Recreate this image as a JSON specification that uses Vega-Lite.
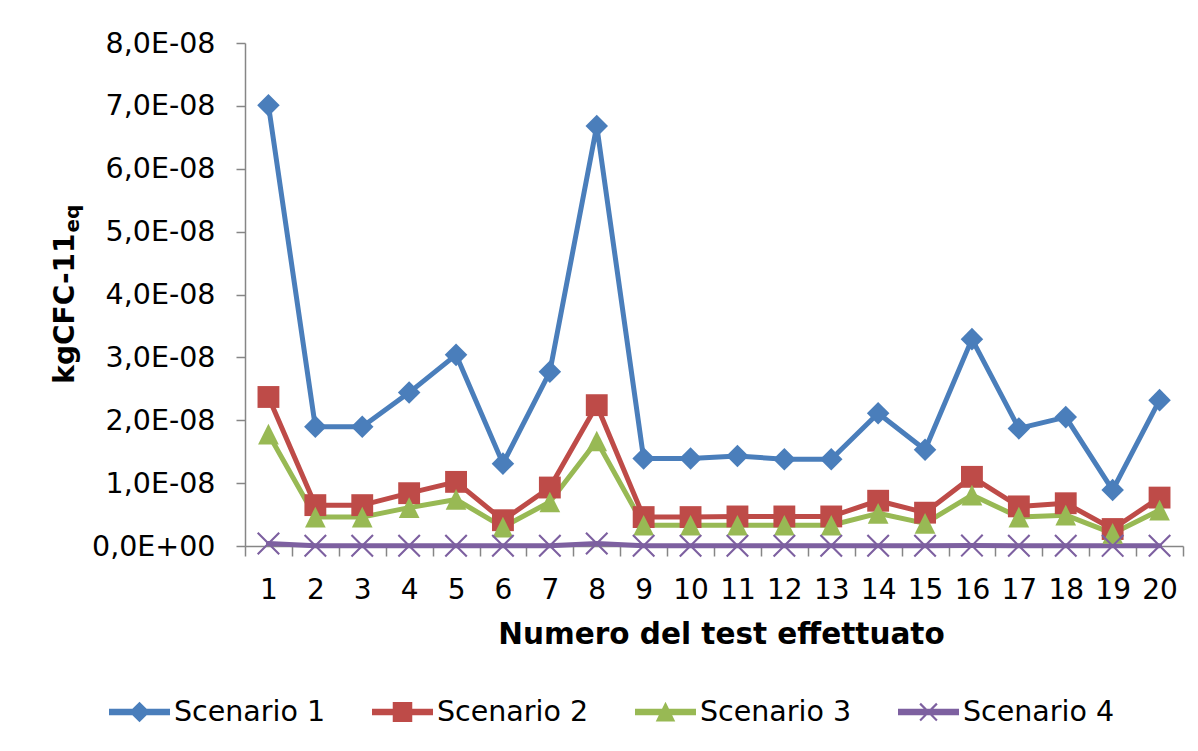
{
  "$schema": "https://vega.github.io/schema/vega-lite/v6.json",
  "width": 938,
  "height": 503,
  "autosize": "none",
  "padding": {"left": 245, "top": 43, "right": 15, "bottom": 205},
  "background": "white",
  "config": {"view": {"stroke": null}, "font": "DejaVu Sans"},
  "data": {"values": [
    {"test": 1, "scenario": "Scenario 1", "value": 7.01e-8},
    {"test": 2, "scenario": "Scenario 1", "value": 1.895e-8},
    {"test": 3, "scenario": "Scenario 1", "value": 1.895e-8},
    {"test": 4, "scenario": "Scenario 1", "value": 2.44e-8},
    {"test": 5, "scenario": "Scenario 1", "value": 3.04e-8},
    {"test": 6, "scenario": "Scenario 1", "value": 1.31e-8},
    {"test": 7, "scenario": "Scenario 1", "value": 2.77e-8},
    {"test": 8, "scenario": "Scenario 1", "value": 6.68e-8},
    {"test": 9, "scenario": "Scenario 1", "value": 1.39e-8},
    {"test": 10, "scenario": "Scenario 1", "value": 1.39e-8},
    {"test": 11, "scenario": "Scenario 1", "value": 1.43e-8},
    {"test": 12, "scenario": "Scenario 1", "value": 1.38e-8},
    {"test": 13, "scenario": "Scenario 1", "value": 1.38e-8},
    {"test": 14, "scenario": "Scenario 1", "value": 2.11e-8},
    {"test": 15, "scenario": "Scenario 1", "value": 1.53e-8},
    {"test": 16, "scenario": "Scenario 1", "value": 3.29e-8},
    {"test": 17, "scenario": "Scenario 1", "value": 1.87e-8},
    {"test": 18, "scenario": "Scenario 1", "value": 2.05e-8},
    {"test": 19, "scenario": "Scenario 1", "value": 0.89e-8},
    {"test": 20, "scenario": "Scenario 1", "value": 2.32e-8},
    {"test": 1, "scenario": "Scenario 2", "value": 2.37e-8},
    {"test": 2, "scenario": "Scenario 2", "value": 0.65e-8},
    {"test": 3, "scenario": "Scenario 2", "value": 0.65e-8},
    {"test": 4, "scenario": "Scenario 2", "value": 0.84e-8},
    {"test": 5, "scenario": "Scenario 2", "value": 1.02e-8},
    {"test": 6, "scenario": "Scenario 2", "value": 0.41e-8},
    {"test": 7, "scenario": "Scenario 2", "value": 0.93e-8},
    {"test": 8, "scenario": "Scenario 2", "value": 2.24e-8},
    {"test": 9, "scenario": "Scenario 2", "value": 0.46e-8},
    {"test": 10, "scenario": "Scenario 2", "value": 0.46e-8},
    {"test": 11, "scenario": "Scenario 2", "value": 0.47e-8},
    {"test": 12, "scenario": "Scenario 2", "value": 0.47e-8},
    {"test": 13, "scenario": "Scenario 2", "value": 0.47e-8},
    {"test": 14, "scenario": "Scenario 2", "value": 0.72e-8},
    {"test": 15, "scenario": "Scenario 2", "value": 0.53e-8},
    {"test": 16, "scenario": "Scenario 2", "value": 1.10e-8},
    {"test": 17, "scenario": "Scenario 2", "value": 0.63e-8},
    {"test": 18, "scenario": "Scenario 2", "value": 0.68e-8},
    {"test": 19, "scenario": "Scenario 2", "value": 0.27e-8},
    {"test": 20, "scenario": "Scenario 2", "value": 0.77e-8},
    {"test": 1, "scenario": "Scenario 3", "value": 1.78e-8},
    {"test": 2, "scenario": "Scenario 3", "value": 0.46e-8},
    {"test": 3, "scenario": "Scenario 3", "value": 0.46e-8},
    {"test": 4, "scenario": "Scenario 3", "value": 0.61e-8},
    {"test": 5, "scenario": "Scenario 3", "value": 0.74e-8},
    {"test": 6, "scenario": "Scenario 3", "value": 0.30e-8},
    {"test": 7, "scenario": "Scenario 3", "value": 0.70e-8},
    {"test": 8, "scenario": "Scenario 3", "value": 1.67e-8},
    {"test": 9, "scenario": "Scenario 3", "value": 0.33e-8},
    {"test": 10, "scenario": "Scenario 3", "value": 0.33e-8},
    {"test": 11, "scenario": "Scenario 3", "value": 0.33e-8},
    {"test": 12, "scenario": "Scenario 3", "value": 0.33e-8},
    {"test": 13, "scenario": "Scenario 3", "value": 0.33e-8},
    {"test": 14, "scenario": "Scenario 3", "value": 0.52e-8},
    {"test": 15, "scenario": "Scenario 3", "value": 0.36e-8},
    {"test": 16, "scenario": "Scenario 3", "value": 0.81e-8},
    {"test": 17, "scenario": "Scenario 3", "value": 0.46e-8},
    {"test": 18, "scenario": "Scenario 3", "value": 0.49e-8},
    {"test": 19, "scenario": "Scenario 3", "value": 0.20e-8},
    {"test": 20, "scenario": "Scenario 3", "value": 0.57e-8},
    {"test": 1, "scenario": "Scenario 4", "value": 0.04e-8},
    {"test": 2, "scenario": "Scenario 4", "value": 0.005e-8},
    {"test": 3, "scenario": "Scenario 4", "value": 0.005e-8},
    {"test": 4, "scenario": "Scenario 4", "value": 0.005e-8},
    {"test": 5, "scenario": "Scenario 4", "value": 0.005e-8},
    {"test": 6, "scenario": "Scenario 4", "value": 0.003e-8},
    {"test": 7, "scenario": "Scenario 4", "value": 0.005e-8},
    {"test": 8, "scenario": "Scenario 4", "value": 0.04e-8},
    {"test": 9, "scenario": "Scenario 4", "value": 0.003e-8},
    {"test": 10, "scenario": "Scenario 4", "value": 0.003e-8},
    {"test": 11, "scenario": "Scenario 4", "value": 0.003e-8},
    {"test": 12, "scenario": "Scenario 4", "value": 0.003e-8},
    {"test": 13, "scenario": "Scenario 4", "value": 0.003e-8},
    {"test": 14, "scenario": "Scenario 4", "value": 0.004e-8},
    {"test": 15, "scenario": "Scenario 4", "value": 0.003e-8},
    {"test": 16, "scenario": "Scenario 4", "value": 0.006e-8},
    {"test": 17, "scenario": "Scenario 4", "value": 0.004e-8},
    {"test": 18, "scenario": "Scenario 4", "value": 0.004e-8},
    {"test": 19, "scenario": "Scenario 4", "value": 0.002e-8},
    {"test": 20, "scenario": "Scenario 4", "value": 0.004e-8}
  ]},
  "encoding": {
    "x": {
      "field": "test",
      "type": "ordinal",
      "bandPosition": 0.5,
      "scale": {"type": "band", "paddingInner": 0, "paddingOuter": 0},
      "axis": {
        "title": "Numero del test effettuato",
        "titleFont": "DejaVu Sans",
        "titleFontSize": 29.5,
        "titleFontWeight": "bold",
        "titleColor": "black",
        "titleX": 476,
        "titleY": 97,
        "titleAlign": "center",
        "titleBaseline": "alphabetic",
        "labelAngle": 0,
        "labelFont": "DejaVu Sans",
        "labelFontSize": 28,
        "labelColor": "black",
        "labelBaseline": "alphabetic",
        "labelPadding": 42,
        "tickBand": "extent",
        "tickSize": 10,
        "tickColor": "#868686",
        "tickWidth": 1.5,
        "domainColor": "#868686",
        "domainWidth": 1.5,
        "grid": false
      }
    },
    "y": {
      "field": "value",
      "type": "quantitative",
      "scale": {"domain": [0, 8e-8], "nice": false, "zero": true},
      "axis": {
        "values": [0, 1e-8, 2e-8, 3e-8, 4e-8, 5e-8, 6e-8, 7e-8, 8e-8],
        "labelExpr": "datum.value == 0 ? '0,0E+00' : toString(round(datum.value * 1e8)) + ',0E-08'",
        "labelFont": "DejaVu Sans",
        "labelFontSize": 28.5,
        "labelColor": "black",
        "labelPadding": 21,
        "tickSize": 9,
        "tickColor": "#868686",
        "tickWidth": 1.5,
        "domainColor": "#868686",
        "domainWidth": 1.5,
        "grid": false,
        "title": "kgCFC-11",
        "titleFont": "DejaVu Sans",
        "titleFontSize": 28,
        "titleFontWeight": "bold",
        "titleColor": "black",
        "titleAngle": -90,
        "titleX": -171.5,
        "titleY": 190,
        "titleAlign": "right",
        "titleBaseline": "alphabetic"
      }
    }
  },
  "layer": [
    {
      "mark": {"type": "line", "strokeWidth": 5, "strokeJoin": "round", "strokeCap": "round"},
      "encoding": {
        "color": {
          "field": "scenario",
          "type": "nominal",
          "title": null,
          "scale": {
            "domain": ["Scenario 1", "Scenario 2", "Scenario 3", "Scenario 4"],
            "range": ["#4A7EBB", "#BE4B48", "#98B954", "#7D60A0"]
          },
          "legend": {
            "orient": "none",
            "legendX": -136,
            "legendY": 638.5,
            "direction": "horizontal",
            "columns": 4,
            "columnPadding": 46,
            "labelOffset": 4,
            "symbolSize": 3721,
            "symbolStrokeWidth": 0,
            "labelFont": "DejaVu Sans",
            "labelFontSize": 28.5,
            "labelColor": "black"
          }
        }
      }
    },
    {
      "mark": {"type": "point", "filled": true, "size": 0, "opacity": 1, "strokeWidth": 0},
      "encoding": {
        "color": {
          "field": "scenario",
          "type": "nominal",
          "title": null
        },
        "shape": {
          "field": "scenario",
          "type": "nominal",
          "title": null,
          "scale": {
            "domain": ["Scenario 1", "Scenario 2", "Scenario 3", "Scenario 4"],
            "range": [
              "M-1,-0.11H1V0.11H-1Z M0,-0.34L0.34,0L0,0.34L-0.34,0Z",
              "M-1,-0.11H1V0.11H-1Z M-0.32,-0.33H0.32V0.33H-0.32Z",
              "M-1,-0.11H1V0.11H-1Z M0,-0.34L0.32,0.31H-0.32Z",
              "M-1,-0.11H1V0.11H-1Z M-0.3,-0.25L-0.25,-0.3L0,-0.05L0.25,-0.3L0.3,-0.25L0.05,0L0.3,0.25L0.25,0.3L0,0.05L-0.25,0.3L-0.3,0.25L-0.05,0Z"
            ]
          }
        },
        "y": {
          "field": "value",
          "type": "quantitative",
          "axis": {
            "orient": "left",
            "labels": false,
            "ticks": false,
            "domain": false,
            "grid": false,
            "title": "eq",
            "titleFont": "DejaVu Sans",
            "titleFontSize": 20,
            "titleFontWeight": "bold",
            "titleColor": "black",
            "titleAngle": -90,
            "titleX": -167,
            "titleY": 189,
            "titleAlign": "left",
            "titleBaseline": "alphabetic"
          }
        }
      }
    },
    {
      "transform": [{"filter": "datum.scenario === 'Scenario 1'"}],
      "mark": {"type": "point", "filled": true, "size": 529, "opacity": 1, "strokeWidth": 0, "color": "#4A7EBB", "shape": "M0,-0.98L0.98,0L0,0.98L-0.98,0Z"},
      "encoding": {"y": {"field": "value", "type": "quantitative", "axis": null}}
    },
    {
      "transform": [{"filter": "datum.scenario === 'Scenario 2'"}],
      "mark": {"type": "point", "filled": true, "size": 529, "opacity": 1, "strokeWidth": 0, "color": "#BE4B48", "shape": "M-0.95,-0.95H0.95V0.95H-0.95Z"},
      "encoding": {"y": {"field": "value", "type": "quantitative", "axis": null}}
    },
    {
      "transform": [{"filter": "datum.scenario === 'Scenario 3'"}],
      "mark": {"type": "point", "filled": true, "size": 529, "opacity": 1, "strokeWidth": 0, "color": "#98B954", "shape": "M0,-0.9L0.9,0.9H-0.9Z"},
      "encoding": {"y": {"field": "value", "type": "quantitative", "axis": null}}
    },
    {
      "transform": [{"filter": "datum.scenario === 'Scenario 4'"}],
      "mark": {"type": "point", "filled": true, "size": 529, "opacity": 1, "strokeWidth": 0, "color": "#7D60A0", "shape": "M-1,-0.87L-0.87,-1L0,-0.13L0.87,-1L1,-0.87L0.13,0L1,0.87L0.87,1L0,0.13L-0.87,1L-1,0.87L-0.13,0Z"},
      "encoding": {"y": {"field": "value", "type": "quantitative", "axis": null}}
    }
  ],
  "resolve": {"axis": {"y": "independent"}}
}
